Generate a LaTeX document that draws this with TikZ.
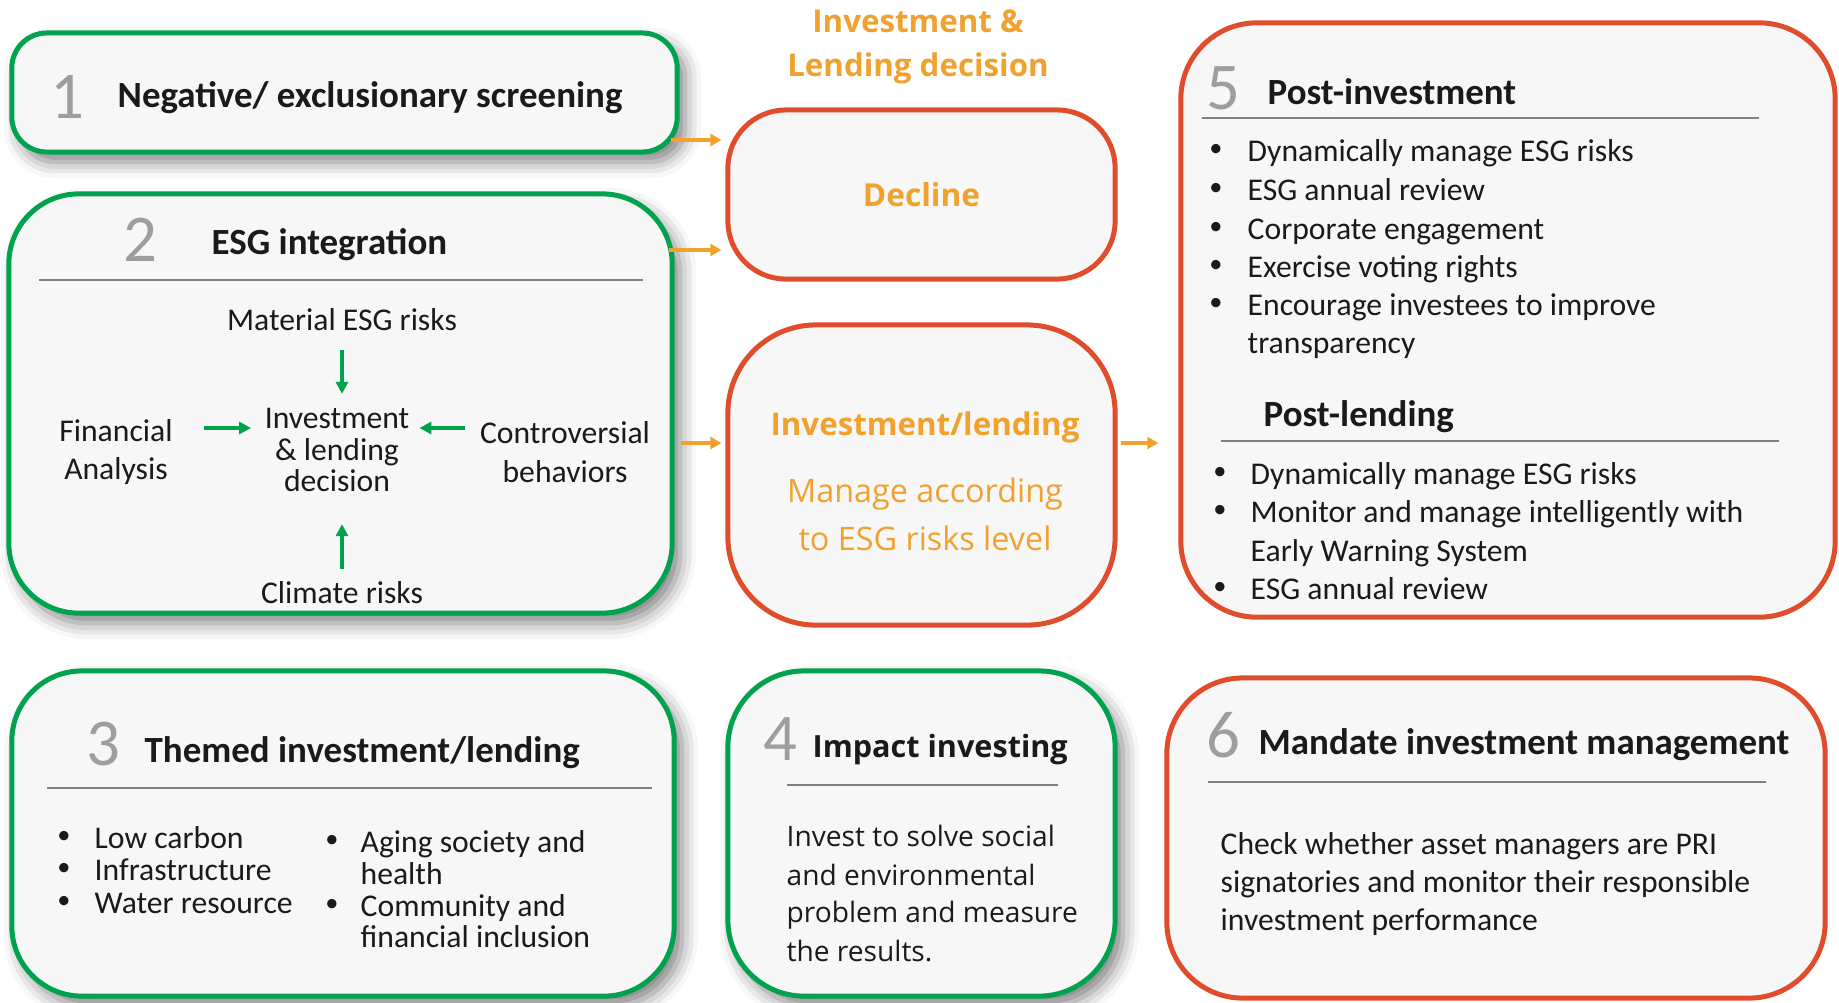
\documentclass[tikz,border=0pt]{standalone}
\usepackage{fontspec}
\setmainfont{Carlito}
\newfontfamily\osans{Open Sans}
\usetikzlibrary{arrows.meta,calc,shadows.blur}

\definecolor{esggreen}{RGB}{0,162,78}
\definecolor{esgred}{RGB}{224,77,44}
\definecolor{esgorange}{RGB}{241,161,46}
\definecolor{boxfill}{RGB}{247,247,247}
\definecolor{numgrey}{RGB}{158,158,158}
\definecolor{sepgrey}{RGB}{128,128,128}
\definecolor{inkblack}{RGB}{26,26,26}

\tikzset{
	gbox/.style={draw=esggreen, line width=0.05cm, fill=boxfill, rounded corners=#1, inner sep=0pt,
		blur shadow={shadow xshift=0.08cm, shadow yshift=-0.1cm, shadow blur radius=0.16cm, shadow opacity=50}},
	rbox/.style={draw=esgred, line width=0.05cm, fill=boxfill, rounded corners=#1, inner sep=0pt},
	numtxt/.style={text=numgrey, font=\fontsize{19}{19}\selectfont, inner sep=0pt},
	ttl/.style={text=inkblack, font=\bfseries\fontsize{10.5}{12.5}\selectfont, anchor=west, inner sep=0pt,
		text height=8.4pt, text depth=1pt},
	body/.style={text=inkblack, font=\fontsize{9}{11}\selectfont, inner sep=0pt, text height=7.3pt, text depth=0.8pt},
	cbody/.style={text=inkblack, font=\fontsize{9}{11}\selectfont, inner sep=0pt, align=center},
	obody/.style={body, font=\osans\fontsize{8}{11}\selectfont},
	dot/.style={text=inkblack, font=\fontsize{7.5}{11}\selectfont, inner sep=0pt},
	otxt/.style={text=esgorange, inner sep=0pt, align=center},
	sep/.style={draw=sepgrey, line width=0.016cm},
	garr/.style={draw=esggreen, line width=0.035cm, -{Triangle[length=0.12cm, width=0.12cm]}},
	oarr/.style={draw=esgorange, line width=0.035cm, -{Triangle[length=0.11cm, width=0.12cm]}}
}

\begin{document}
\begin{tikzpicture}[x=0.01cm, y=-0.01cm]
	\useasboundingbox (0,0) rectangle (1839,1002);

	% Boxes
	\node[gbox=0.35cm, minimum width=6.65cm, minimum height=1.19cm] (b1) at (344.5,92.5) {};
	\node[gbox=0.70cm, minimum width=6.63cm, minimum height=4.19cm] (b2) at (340.5,403.5) {};
	\node[gbox=0.70cm, minimum width=6.62cm, minimum height=3.25cm] (b3) at (343,833.5) {};
	\node[gbox=0.76cm, minimum width=3.87cm, minimum height=3.25cm] (b4) at (921.5,833.5) {};
	\node[rbox=0.58cm, minimum width=3.87cm, minimum height=1.69cm, otxt,
		font=\osans\bfseries\fontsize{9}{11}\selectfont] (dec) at (921.5,194.5) {Decline};
	\node[rbox=0.88cm, minimum width=3.87cm, minimum height=3.00cm] (inv) at (921.5,475) {};
	\node[rbox=0.76cm, minimum width=6.54cm, minimum height=5.94cm] (b5) at (1508,320) {};
	\node[rbox=0.76cm, minimum width=6.58cm, minimum height=3.20cm] (b6) at (1496,838) {};

	% Decision column
	\node[otxt, font=\osans\bfseries\fontsize{8.9}{12.5}\selectfont] (hdr) at (918,46.5) {Investment \&\\Lending decision};
	\node[otxt, font=\osans\bfseries\fontsize{8.9}{11}\selectfont] (invt) at (925,427) {Investment/lending};
	\node[otxt, font=\osans\fontsize{9.2}{13.7}\selectfont] (invb) at (925,514) {Manage according\\to ESG risks level};

	% 1
	\node[numtxt] (n1) at (67,96.5) {1};
	\node[ttl] (t1) at (117,94) {Negative/ exclusionary screening};

	% 2
	\node[numtxt] (n2) at (140,240) {2};
	\node[ttl] (t2) at (211,241) {ESG integration};
	\draw[sep] (39,280) -- (643,280);
	\node[body] (mat) at (342,319) {Material ESG risks};
	\node[cbody] (fin) at (116,452) {Financial\\Analysis};
	\node[cbody, font=\fontsize{9}{9}\selectfont] (ctr) at (337,450) {Investment\\\& lending\\decision};
	\node[cbody] (con) at (565,452) {Controversial\\behaviors};
	\node[body] (clim) at (342,592) {Climate risks};
	\draw[garr, shorten <=0.16cm, shorten >=0.135cm] (mat.south) -- (mat.south |- ctr.north);
	\draw[garr, shorten <=0.08cm, shorten >=0.315cm] (clim.north) -- (clim.north |- ctr.south);
	\coordinate (fa) at ($(fin.east)+(0,-24)$);
	\coordinate (ca) at ($(con.west)+(0,-24)$);
	\draw[garr, shorten <=0.31cm, shorten >=0.13cm] (fa) -- (fa -| ctr.west);
	\draw[garr, shorten <=0.14cm, shorten >=0.095cm] (ca) -- (ca -| ctr.east);

	% 3
	\node[numtxt] (n3) at (103,744) {3};
	\node[ttl] (t3) at (144,749) {Themed investment/lending};
	\draw[sep] (47,788) -- (652,788);
	\foreach \yy/\txt [count=\i] in {837/Low carbon, 869/Infrastructure, 902/Water resource}
		\node[body, anchor=west] (tl\i) at (94,\yy) {\txt};
	\foreach \yy/\txt [count=\i] in {841/Aging society and, 873/health, 905/Community and, 936/financial inclusion}
		\node[body, anchor=west] (tr\i) at (360,\yy) {\txt};
	\foreach \yy [count=\i] in {837,869,902}
		\node[dot] (tld\i) at (64,\yy) {\textbullet};
	\foreach \yy [count=\i] in {841,905}
		\node[dot] (trd\i) at (332,\yy) {\textbullet};

	% 4
	\node[numtxt] (n4) at (780,739) {4};
	\node[ttl, font=\osans\bfseries\fontsize{8.7}{11}\selectfont] (t4) at (812,744) {Impact investing};
	\draw[sep] (787,785) -- (1058,785);
	\foreach \yy/\txt [count=\i] in {835/Invest to solve social, 874/and environmental, 911/problem and measure, 950/the results.}
		\node[obody, anchor=west] (im\i) at (786,\yy) {\txt};

	% 5
	\node[numtxt] (n5) at (1223,88) {5};
	\node[ttl] (t5) at (1267,91) {Post-investment};
	\draw[sep] (1202,118) -- (1759,118);
	\foreach \yy/\txt [count=\i] in {150/Dynamically manage ESG risks, 189/ESG annual review, 228/Corporate engagement,
			266/Exercise voting rights, 304/Encourage investees to improve, 342/transparency}
		\node[body, anchor=west] (pi\i) at (1247,\yy) {\txt};
	\foreach \yy [count=\i] in {150,189,228,266,304}
		\node[dot] (pid\i) at (1216,\yy) {\textbullet};
	\node[ttl] (t5b) at (1263,413) {Post-lending};
	\draw[sep] (1221,441) -- (1779,441);
	\foreach \yy/\txt [count=\i] in {473/Dynamically manage ESG risks, 511/Monitor and manage intelligently with,
			550/Early Warning System, 588/ESG annual review}
		\node[body, anchor=west] (pl\i) at (1250,\yy) {\txt};
	\foreach \yy [count=\i] in {473,511,588}
		\node[dot] (pld\i) at (1220,\yy) {\textbullet};

	% 6
	\node[numtxt] (n6) at (1223,735) {6};
	\node[ttl] (t6) at (1258,741) {Mandate investment management};
	\draw[sep] (1208,782) -- (1766,782);
	\foreach \yy/\txt [count=\i] in {843/Check whether asset managers are PRI, 881/signatories and monitor their responsible,
			919/investment performance}
		\node[body, anchor=west] (md\i) at (1220,\yy) {\txt};

	% Flow arrows
	\coordinate (a1) at ($(b1.east)+(-9,47.5)$);
	\coordinate (a2) at ($(b2.east)+(-6,-153.5)$);
	\coordinate (a3) at ($(b2.east)+(6,39.5)$);
	\coordinate (a4) at ($(inv.east)+(3,-32)$);
	\draw[oarr, shorten >=0.04cm] (a1) -- (a1 -| dec.west);
	\draw[oarr, shorten >=0.04cm] (a2) -- (a2 -| dec.west);
	\draw[oarr, shorten >=0.04cm] (a3) -- (a3 -| inv.west);
	\draw[oarr, shorten >=0.2cm] (a4) -- (a4 -| b5.west);
\end{tikzpicture}
\end{document}
